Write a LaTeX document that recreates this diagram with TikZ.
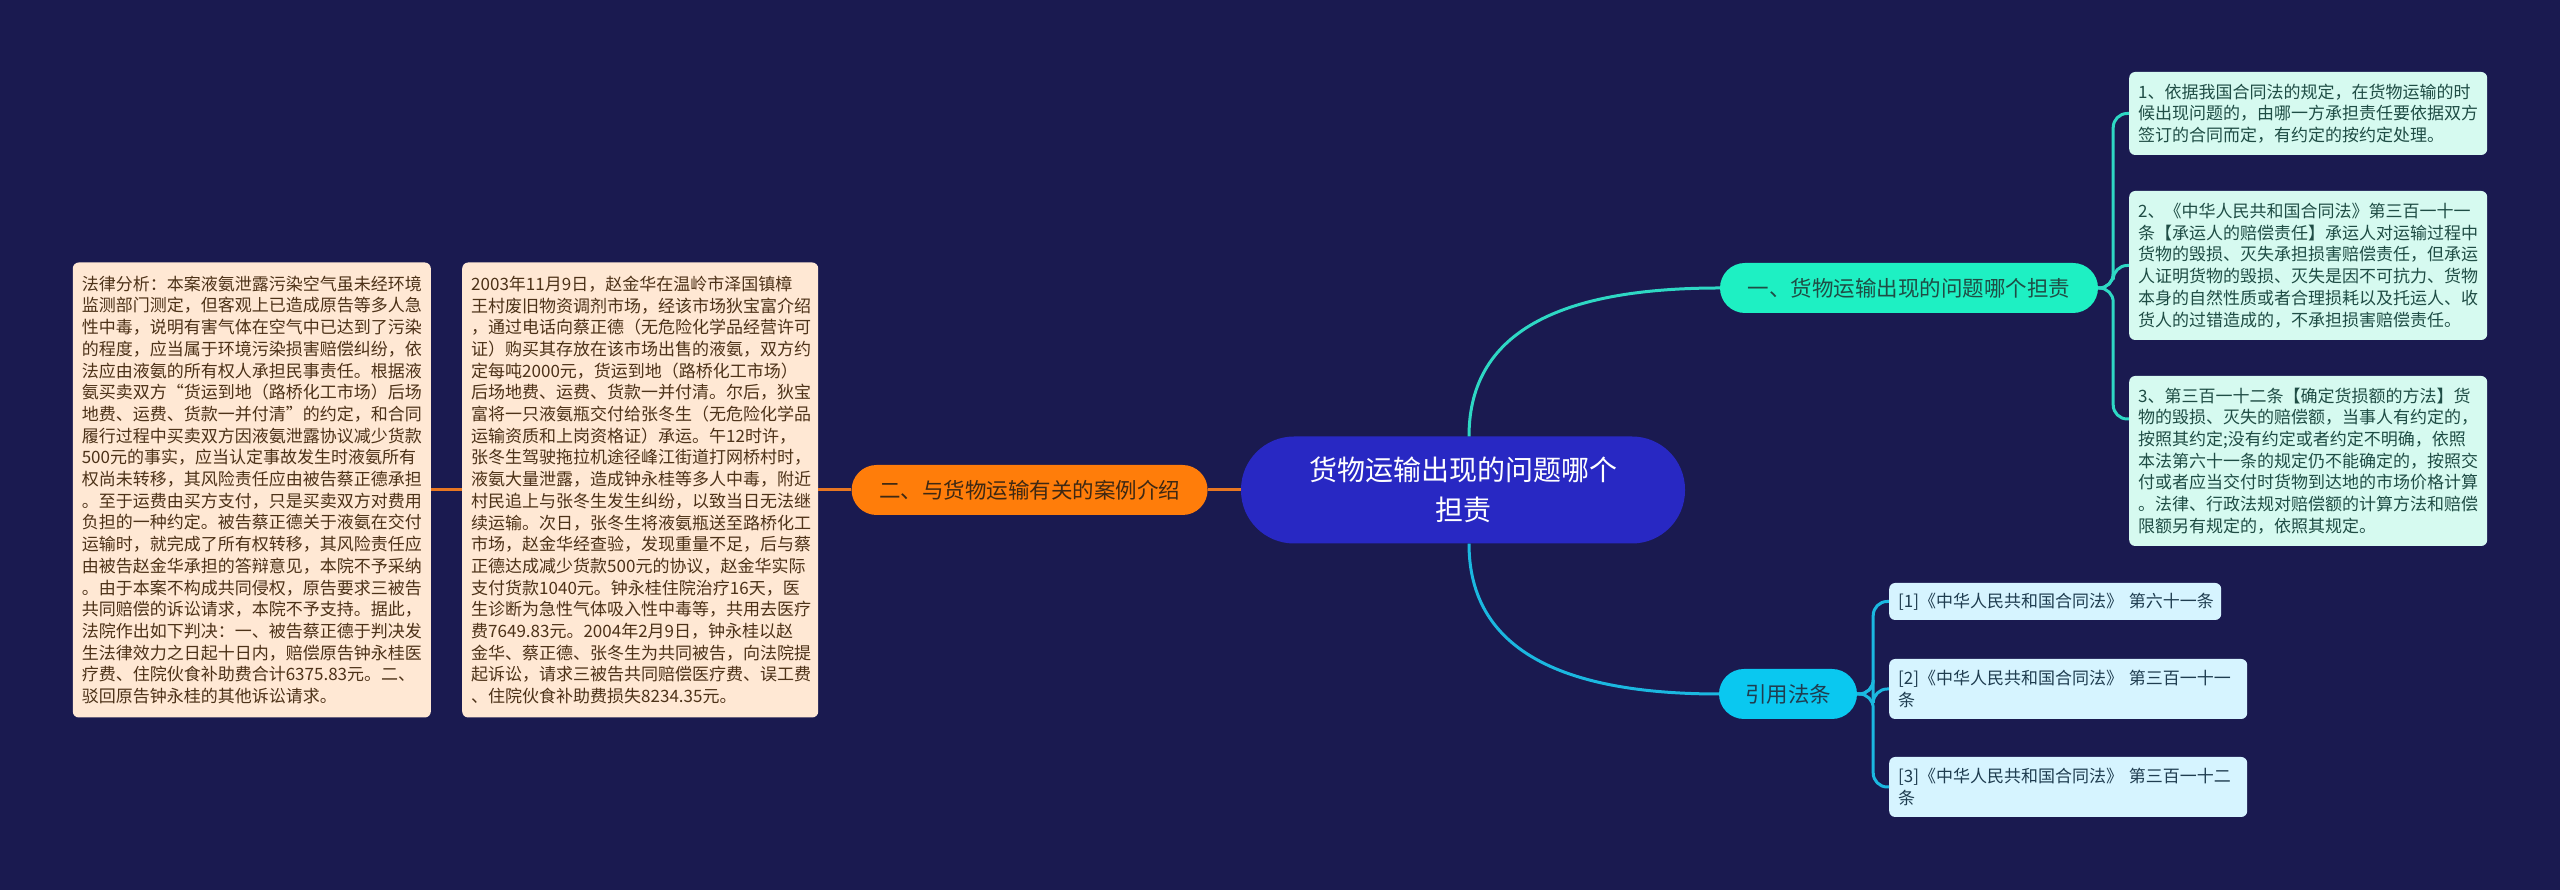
\documentclass[tikz,border=0pt]{standalone}
\usepackage{fontspec}
\setmainfont{Noto Sans CJK SC}
\usepackage{xcolor}
\usepackage{tikz}
\usetikzlibrary{positioning}

\definecolor{bgnavy}{HTML}{1A1A50}
\definecolor{rootblue}{HTML}{2828C3}
\definecolor{caseorange}{HTML}{FF7D0A}
\definecolor{caseline}{HTML}{E87722}
\definecolor{casefill}{HTML}{FFE8D4}
\definecolor{casetext}{HTML}{4D3218}
\definecolor{qteal}{HTML}{1EF0C3}
\definecolor{qline}{HTML}{2ED8C4}
\definecolor{qfill}{HTML}{D6FAF0}
\definecolor{qtext}{HTML}{1F4D45}
\definecolor{lawcyan}{HTML}{0AC8F0}
\definecolor{lawline}{HTML}{1BB8E0}
\definecolor{lawfill}{HTML}{D6F4FF}
\definecolor{lawtext}{HTML}{1F3D50}

\begin{document}
\begin{tikzpicture}[
            x=1pt, y=1pt,
            node distance=33pt,
            rootnode/.style ={rectangle, rounded corners=53pt, fill=rootblue, text=white,
                              minimum width=444pt, minimum height=107pt, inner sep=0pt,
                              align=center, font=\fontsize{28}{40}\selectfont},
            topicnode/.style={rectangle, rounded corners=25pt, inner sep=0pt,
                              minimum height=50pt, align=center,
                              font=\fontsize{21.5}{26}\selectfont},
            textbox/.style  ={rectangle, rounded corners=6pt, inner xsep=9pt, inner ysep=0pt,
                              align=left, font=\fontsize{17}{21.7}\selectfont},
            casebox/.style  ={textbox, fill=casefill, text=casetext},
            qbox/.style     ={textbox, fill=qfill, text=qtext, text width=340pt},
            lawbox/.style   ={textbox, fill=lawfill, text=lawtext},
            caselink/.style ={draw=caseline, line width=3pt},
            qlink/.style    ={draw=qline, line width=3pt, rounded corners=14pt},
            lawlink/.style  ={draw=lawline, line width=3pt, rounded corners=14pt}
        ]
        \fill[bgnavy] (0,0) rectangle (2560,890);
        \useasboundingbox (0,0) rectangle (2560,890);

        % centre
        \node[rootnode] (root) at (1463,400) {货物运输出现的问题哪个\\担责};

        % left branch
        \node[topicnode, fill=caseorange, text=casetext!80!black, minimum width=356pt,
              left=33pt of root] (case) {二、与货物运输有关的案例介绍};
        \node[casebox, text width=338pt, minimum height=455pt, left=33pt of case] (facts)
            {2003年11月9日，赵金华在温岭市泽国镇樟\\
             王村废旧物资调剂市场，经该市场狄宝富介绍\\
             ，通过电话向蔡正德（无危险化学品经营许可\\
             证）购买其存放在该市场出售的液氨，双方约\\
             定每吨2000元，货运到地（路桥化工市场）\\
             后场地费、运费、货款一并付清。尔后，狄宝\\
             富将一只液氨瓶交付给张冬生（无危险化学品\\
             运输资质和上岗资格证）承运。午12时许，\\
             张冬生驾驶拖拉机途径峰江街道打网桥村时，\\
             液氨大量泄露，造成钟永桂等多人中毒，附近\\
             村民追上与张冬生发生纠纷，以致当日无法继\\
             续运输。次日，张冬生将液氨瓶送至路桥化工\\
             市场，赵金华经查验，发现重量不足，后与蔡\\
             正德达成减少货款500元的协议，赵金华实际\\
             支付货款1040元。钟永桂住院治疗16天，医\\
             生诊断为急性气体吸入性中毒等，共用去医疗\\
             费7649.83元。2004年2月9日，钟永桂以赵\\
             金华、蔡正德、张冬生为共同被告，向法院提\\
             起诉讼，请求三被告共同赔偿医疗费、误工费\\
             、住院伙食补助费损失8234.35元。};
        \node[casebox, text width=340pt, minimum height=455pt, left=31pt of facts] (analysis)
            {法律分析：本案液氨泄露污染空气虽未经环境\\
             监测部门测定，但客观上已造成原告等多人急\\
             性中毒，说明有害气体在空气中已达到了污染\\
             的程度，应当属于环境污染损害赔偿纠纷，依\\
             法应由液氨的所有权人承担民事责任。根据液\\
             氨买卖双方“货运到地（路桥化工市场）后场\\
             地费、运费、货款一并付清”的约定，和合同\\
             履行过程中买卖双方因液氨泄露协议减少货款\\
             500元的事实，应当认定事故发生时液氨所有\\
             权尚未转移，其风险责任应由被告蔡正德承担\\
             。至于运费由买方支付，只是买卖双方对费用\\
             负担的一种约定。被告蔡正德关于液氨在交付\\
             运输时，就完成了所有权转移，其风险责任应\\
             由被告赵金华承担的答辩意见，本院不予采纳\\
             。由于本案不构成共同侵权，原告要求三被告\\
             共同赔偿的诉讼请求，本院不予支持。据此，\\
             法院作出如下判决：一、被告蔡正德于判决发\\
             生法律效力之日起十日内，赔偿原告钟永桂医\\
             疗费、住院伙食补助费合计6375.83元。二、\\
             驳回原告钟永桂的其他诉讼请求。};

        % right branch, upper
        \node[topicnode, fill=qteal, text=qtext, minimum width=378pt] (question) at (1909,602)
            {一、货物运输出现的问题哪个担责};
        \node[qbox, minimum height=83pt, anchor=west] (q1) at (2129,776.5)
            {1、依据我国合同法的规定，在货物运输的时\\
             候出现问题的，由哪一方承担责任要依据双方\\
             签订的合同而定，有约定的按约定处理。};
        \node[qbox, minimum height=149pt, anchor=west] (q2) at (2129,624.5)
            {2、《中华人民共和国合同法》第三百一十一\\
             条【承运人的赔偿责任】承运人对运输过程中\\
             货物的毁损、灭失承担损害赔偿责任，但承运\\
             人证明货物的毁损、灭失是因不可抗力、货物\\
             本身的自然性质或者合理损耗以及托运人、收\\
             货人的过错造成的，不承担损害赔偿责任。};
        \node[qbox, minimum height=170pt, anchor=west] (q3) at (2129,429)
            {3、第三百一十二条【确定货损额的方法】货\\
             物的毁损、灭失的赔偿额，当事人有约定的，\\
             按照其约定;没有约定或者约定不明确，依照\\
             本法第六十一条的规定仍不能确定的，按照交\\
             付或者应当交付时货物到达地的市场价格计算\\
             。法律、行政法规对赔偿额的计算方法和赔偿\\
             限额另有规定的，依照其规定。};

        % right branch, lower
        \node[topicnode, fill=lawcyan, text=lawtext, minimum width=138pt] (law) at (1788,196)
            {引用法条};
        \node[lawbox, text width=314pt, minimum height=37pt, anchor=west] (law1) at (1889,288.5)
            {\makebox[314pt][l]{[1]《中华人民共和国合同法》 第六十一条}};
        \node[lawbox, text width=340pt, minimum height=60pt, anchor=west] (law2) at (1889,201)
            {[2]《中华人民共和国合同法》 第三百一十一\\条};
        \node[lawbox, text width=340pt, minimum height=60pt, anchor=west] (law3) at (1889,103)
            {[3]《中华人民共和国合同法》 第三百一十二\\条};

        % links
        \draw[caselink] (root.west)  -- (case.east);
        \draw[caselink] (case.west)  -- (facts.east);
        \draw[caselink] (facts.west) -- (analysis.east);

        \draw[qlink] ([xshift=6pt]root.north) .. controls +(0,110) and +(-150,0) .. (question.west);
        \draw[lawlink] ([xshift=6pt]root.south) .. controls +(0,-110) and +(-150,0) .. (law.west);

        \draw[qlink] (question.east) -- ++(15,0) |- (q1.west);
        \draw[qlink] (question.east) -- ++(15,0) |- (q2.west);
        \draw[qlink] (question.east) -- ++(15,0) |- ([yshift=42pt]q3.west);

        \draw[lawlink] (law.east) -- ++(16,0) |- (law1.west);
        \draw[lawlink] (law.east) -- ++(16,0) |- (law2.west);
        \draw[lawlink] (law.east) -- ++(16,0) |- (law3.west);
        \end{tikzpicture}
\end{document}
